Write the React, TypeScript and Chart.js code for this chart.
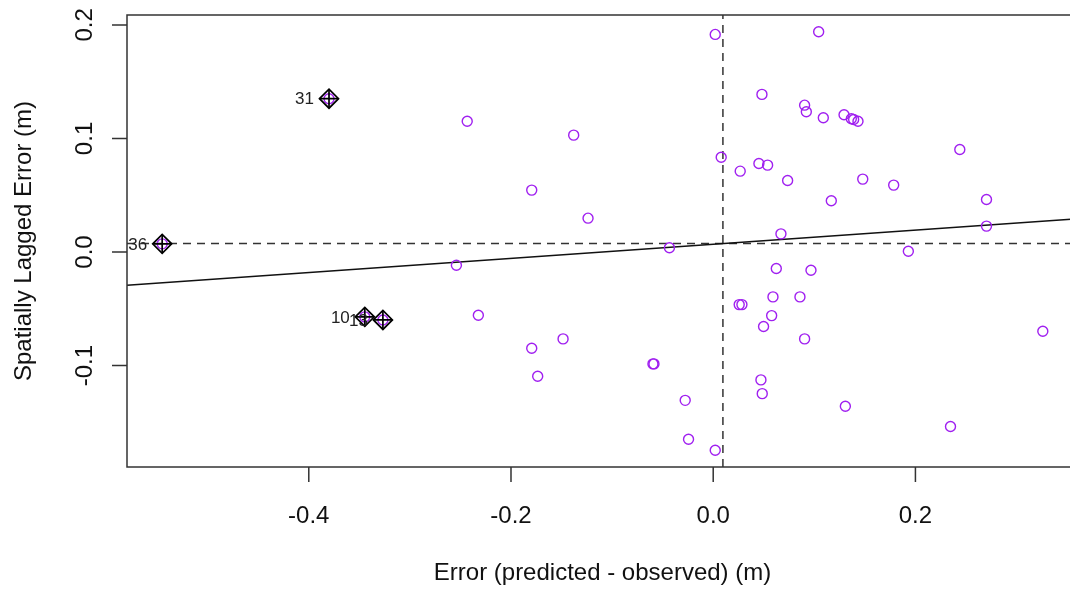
import React, { useEffect, useRef } from "react";
import { Chart, registerables } from "chart.js";

Chart.register(...registerables);

// ---- data ----
const errX: number[] = [
  -0.380, -0.545, -0.3446, -0.3267, -0.2433, -0.254, -0.138, -0.1795, -0.1238, 0.002,
  0.0079, 0.0267, 0.0482, -0.0433, -0.2323, -0.1795, -0.1485, -0.1736, -0.0596, -0.0586,
  -0.0277, -0.0244, 0.002, 0.0257, 0.0284, 0.1043, 0.0904, 0.0921, 0.1089, 0.1294,
  0.1366, 0.1389, 0.1432, 0.2439, 0.0452, 0.0538, 0.0736, 0.1479, 0.1785, 0.1168,
  0.2703, 0.2703, 0.067, 0.193, 0.0624, 0.0967, 0.0591, 0.0858, 0.0578, 0.0498,
  0.0904, 0.326, 0.0472, 0.0485, 0.1307, 0.2347,
];
const laggedY: number[] = [
  0.135, 0.0072, -0.0571, -0.0598, 0.1152, -0.0116, 0.1029, 0.0545, 0.0298, 0.1916,
  0.0835, 0.0712, 0.1388, 0.0037, -0.0557, -0.0847, -0.0765, -0.1094, -0.0985, -0.0985,
  -0.1306, -0.1649, -0.1746, -0.0463, -0.0463, 0.194, 0.1293, 0.1235, 0.1182, 0.1209,
  0.1173, 0.1167, 0.1152, 0.0903, 0.078, 0.0765, 0.063, 0.0642, 0.0589, 0.0451,
  0.0463, 0.0228, 0.016, 0.0007, -0.0145, -0.016, -0.0395, -0.0395, -0.056, -0.0656,
  -0.0765, -0.0698, -0.1126, -0.1247, -0.1358, -0.1537,
];

const infLabels: string[] = ["31", "36", "10", "13"];
const infX: number[] = [-0.380, -0.545, -0.3446, -0.3267];
const infY: number[] = [0.135, 0.0072, -0.0571, -0.0598];

const regX: number[] = [-0.5798, 0.3608];
const regY: number[] = [-0.0293, 0.0293];

const meanX = 0.0096;
const meanY = 0.0075;

const xMin = -0.5798;
const xMax = 0.3608;
const yMin = -0.1893;
const yMax = 0.2087;

const xTicks: number[] = [-0.4, -0.2, 0.0, 0.2];
const xTickLabels: string[] = ["-0.4", "-0.2", "0.0", "0.2"];
const yTicks: number[] = [-0.1, 0.0, 0.1, 0.2];
const yTickLabels: string[] = ["-0.1", "0.0", "0.1", "0.2"];

const xTitle = "Error (predicted - observed) (m)";
const yTitle = "Spatially Lagged Error (m)";

const FONT = '"Liberation Sans", Arial, sans-serif';

const rAxesPlugin = {
  id: "rAxes",
  afterDraw(chart: any) {
    const { ctx, chartArea: a, scales } = chart;
    const x = scales.x;
    const y = scales.y;
    ctx.save();
    ctx.strokeStyle = "#333";
    ctx.lineWidth = 1.5;
    ctx.strokeRect(a.left, a.top, a.right - a.left, a.bottom - a.top);
    ctx.beginPath();
    xTicks.forEach((v) => {
      const px = x.getPixelForValue(v);
      ctx.moveTo(px, a.bottom);
      ctx.lineTo(px, a.bottom + 15);
    });
    yTicks.forEach((v) => {
      const py = y.getPixelForValue(v);
      ctx.moveTo(a.left, py);
      ctx.lineTo(a.left - 15, py);
    });
    ctx.stroke();

    ctx.fillStyle = "#111";
    ctx.font = `24px ${FONT}`;
    ctx.textAlign = "center";
    ctx.textBaseline = "alphabetic";
    xTicks.forEach((v, i) => {
      ctx.fillText(xTickLabels[i], x.getPixelForValue(v), a.bottom + 56);
    });
    yTicks.forEach((v, i) => {
      ctx.save();
      ctx.translate(a.left - 35, y.getPixelForValue(v));
      ctx.rotate(-Math.PI / 2);
      ctx.fillText(yTickLabels[i], 0, 0);
      ctx.restore();
    });
    ctx.fillText(xTitle, (a.left + a.right) / 2, a.bottom + 113);
    ctx.save();
    ctx.translate(31, (a.top + a.bottom) / 2);
    ctx.rotate(-Math.PI / 2);
    ctx.fillText(yTitle, 0, 0);
    ctx.restore();

    // labels of influential points
    ctx.font = `17px ${FONT}`;
    ctx.textAlign = "right";
    ctx.textBaseline = "middle";
    ctx.fillStyle = "#222";
    infLabels.forEach((lab, i) => {
      ctx.fillText(lab, x.getPixelForValue(infX[i]) - 15, y.getPixelForValue(infY[i]) + 1);
    });
    ctx.restore();
  },
};

export default function App() {
  const ref = useRef<HTMLCanvasElement | null>(null);

  useEffect(() => {
    if (!ref.current) return;
    const pts = errX.map((v, i) => ({ x: v, y: laggedY[i] }));
    const inf = infX.map((v, i) => ({ x: v, y: infY[i] }));
    const chart = new Chart(ref.current, {
      type: "scatter",
      data: {
        datasets: [
          {
            data: [{ x: xMin, y: meanY }, { x: xMax, y: meanY }],
            showLine: true,
            borderColor: "#333",
            borderWidth: 1.5,
            borderDash: [8, 6],
            pointRadius: 0,
            order: 6,
          },
          {
            data: [{ x: meanX, y: yMin }, { x: meanX, y: yMax }],
            showLine: true,
            borderColor: "#333",
            borderWidth: 1.5,
            borderDash: [8, 6],
            pointRadius: 0,
            order: 5,
          },
          {
            data: regX.map((v, i) => ({ x: v, y: regY[i] })),
            showLine: true,
            borderColor: "#111",
            borderWidth: 1.6,
            pointRadius: 0,
            order: 4,
          },
          {
            data: pts,
            pointStyle: "circle",
            pointRadius: 5,
            borderWidth: 1.4,
            borderColor: "#A020F0",
            backgroundColor: "rgba(0,0,0,0)",
            order: 3,
          },
          {
            data: inf,
            pointStyle: "rectRot",
            pointRadius: 9.5,
            borderWidth: 1.7,
            borderColor: "#000",
            backgroundColor: "rgba(0,0,0,0)",
            order: 2,
          },
          {
            data: inf,
            pointStyle: "cross",
            pointRadius: 9.5,
            borderWidth: 1.7,
            borderColor: "#000",
            backgroundColor: "rgba(0,0,0,0)",
            order: 1,
          },
        ],
      },
      options: {
        responsive: false,
        animation: false,
        devicePixelRatio: 1,
        layout: { padding: { left: 127, top: 15, right: 22, bottom: 128 } },
        plugins: { legend: { display: false }, tooltip: { enabled: false } },
        events: [],
        scales: {
          x: { type: "linear", min: xMin, max: xMax, display: false },
          y: { type: "linear", min: yMin, max: yMax, display: false },
        },
      },
      plugins: [rAxesPlugin],
    });
    return () => chart.destroy();
  }, []);

  return (
    <div
      style={{
        position: "absolute",
        left: 0,
        top: 0,
        width: 1070,
        height: 595,
        overflow: "hidden",
        background: "#fff",
      }}
    >
      <canvas ref={ref} width={1100} height={595} style={{ width: 1100, height: 595, display: "block" }} />
    </div>
  );
}
